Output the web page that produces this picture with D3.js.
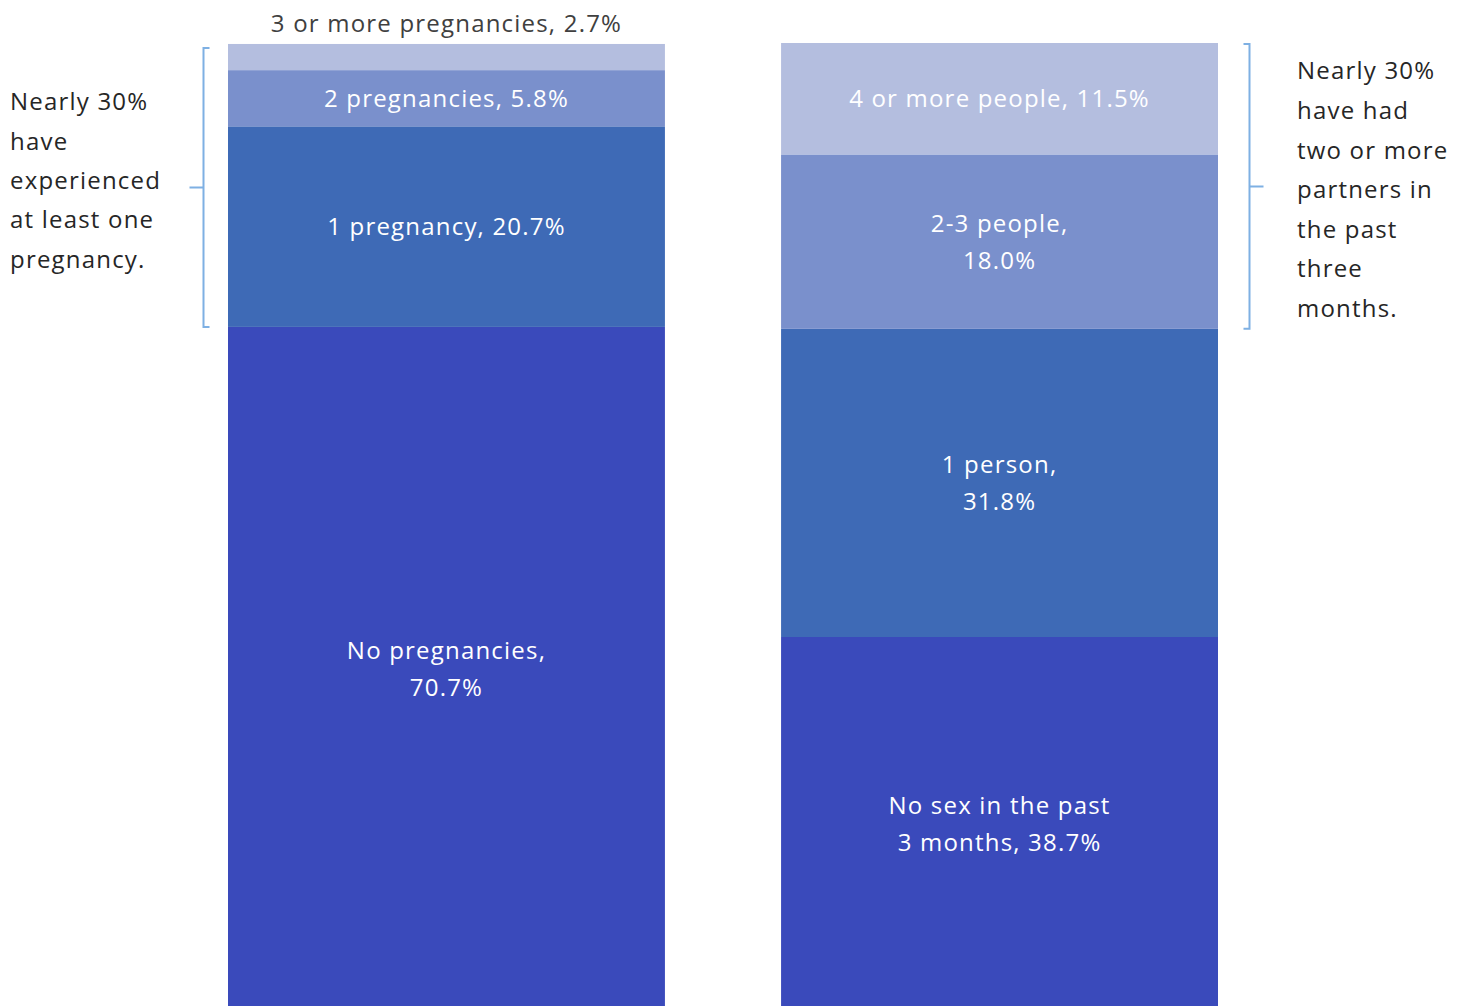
<!DOCTYPE html>
<html>
<head>
<meta charset="utf-8">
<script src="https://cdn.jsdelivr.net/npm/d3@7"></script>
<style>
  html, body { margin: 0; padding: 0; background: #fff; }
  svg { display: block; font-family: "Open Sans", Lato, sans-serif; letter-spacing: 1.2px; }
</style>
</head>
<body>
<svg id="chart" width="1467" height="1006"></svg>
<script>
// Two stacked 100% bars: pregnancies and recent sexual partners
const bars = ["pregnancies", "partners"];

const pregnancyLabels = [
  ["No pregnancies,", "70.7%"],
  ["1 pregnancy, 20.7%"],
  ["2 pregnancies, 5.8%"],
  ["3 or more pregnancies, 2.7%"]
];
const pregnancyValues = [70.7, 20.7, 5.8, 2.7];

const partnerLabels = [
  ["No sex in the past", "3 months, 38.7%"],
  ["1 person,", "31.8%"],
  ["2-3 people,", "18.0%"],
  ["4 or more people, 11.5%"]
];
const partnerValues = [38.7, 31.8, 18.0, 11.5];

const shades = ["#3A4ABB", "#3E6AB6", "#7A90CC", "#B4BEDF"];

const leftNote = ["Nearly 30%", "have", "experienced", "at least one", "pregnancy."];
const rightNote = ["Nearly 30%", "have had", "two or more", "partners in", "the past", "three", "months."];

const svg = d3.select("#chart");

const x = d3.scaleBand().domain(bars).range([228, 1218]).paddingInner(0.21);
const y = d3.scaleLinear().domain([0, 100]).range([1012, 43]);

const series = [
  { key: "pregnancies", values: pregnancyValues, labels: pregnancyLabels },
  { key: "partners", values: partnerValues, labels: partnerLabels }
];

const fontSize = 24;
const lineH = 37;

series.forEach(s => {
  let acc = 0;
  const segs = s.values.map((v, i) => {
    const seg = { y0: acc, y1: acc + v, color: shades[i], label: s.labels[i] };
    acc += v;
    return seg;
  });

  const g = svg.append("g");
  g.selectAll("rect")
    .data(segs)
    .join("rect")
    .attr("x", x(s.key))
    .attr("width", x.bandwidth())
    .attr("y", d => y(d.y1))
    .attr("height", d => y(d.y0) - y(d.y1))
    .attr("fill", d => d.color);

  segs.forEach(d => {
    const cx = x(s.key) + x.bandwidth() / 2;
    const h = y(d.y0) - y(d.y1);
    const small = h < 40;
    // a segment too thin for its label gets it above the bar in dark text
    const cy = small ? y(d.y1) - 20 : (y(d.y0) + y(d.y1)) / 2;
    const t = g.append("text")
      .attr("text-anchor", "middle")
      .attr("font-size", fontSize)
      .attr("fill", small ? "#404040" : "#ffffff");
    d.label.forEach((line, k) => {
      t.append("tspan")
        .attr("x", cx)
        .attr("y", cy + (k - (d.label.length - 1) / 2) * lineH)
        .attr("dy", "0.35em")
        .text(line);
    });
  });
});

// Brackets spanning the categories above the first one
const bracketColor = "#7EB0E3";
function bracket(xLine, yTop, yBot, capDir, tickDir) {
  const yMid = (yTop + yBot) / 2;
  const p = d3.path();
  p.moveTo(xLine + capDir * 6, yTop);
  p.lineTo(xLine, yTop);
  p.lineTo(xLine, yBot);
  p.lineTo(xLine + capDir * 6, yBot);
  p.moveTo(xLine, yMid);
  p.lineTo(xLine + tickDir * 14, yMid);
  svg.append("path")
    .attr("d", p.toString())
    .attr("fill", "none")
    .attr("stroke", bracketColor)
    .attr("stroke-width", 2);
}
bracket(203.5, 48, y(pregnancyValues[0]), 1, -1);
bracket(1249.5, 44, y(partnerValues[0] + partnerValues[1]), -1, 1);

function note(lines, x0, yFirst, gap) {
  const t = svg.append("text")
    .attr("font-size", fontSize)
    .attr("fill", "#262626");
  lines.forEach((line, k) => {
    t.append("tspan")
      .attr("x", x0)
      .attr("y", yFirst + k * gap)
      .attr("dy", "0.35em")
      .text(line);
  });
}
note(leftNote, 10, 102, 39.3);
note(rightNote, 1297, 71, 39.6);
</script>
</body>
</html>
